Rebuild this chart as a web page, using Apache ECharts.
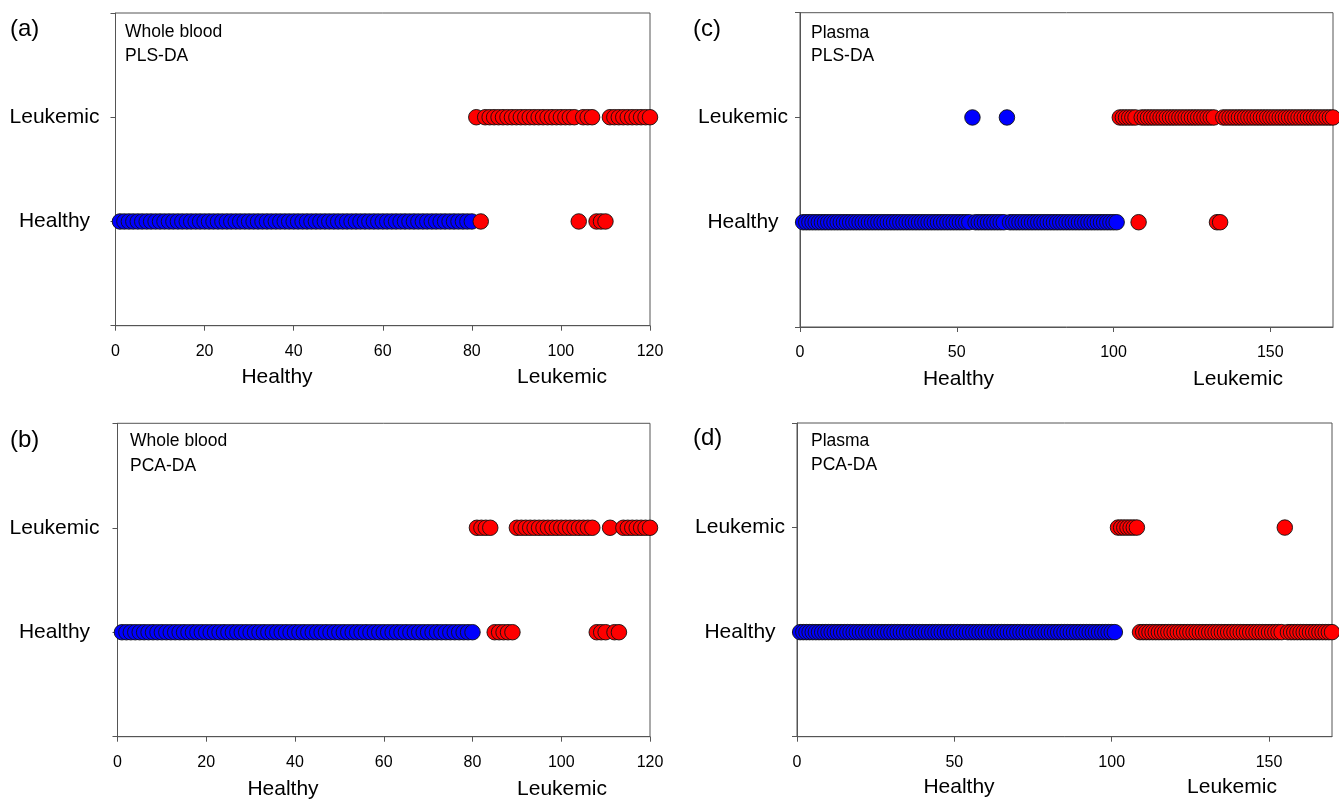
<!DOCTYPE html>
<html>
<head>
<meta charset="utf-8">
<script src="https://cdn.jsdelivr.net/npm/echarts@6/dist/echarts.min.js"></script>
<style>
html,body{margin:0;padding:0;background:#fff;}
#chart{width:1339px;height:800px;}
</style>
</head>
<body>
<div id="chart"></div>
<script>
// ---- Data: sample numbers, grouped by true class (colour) and predicted class (row) ----
const yCategories = ['Healthy', 'Leukemic'];   // y = 1, y = 2

// (a) Whole blood, PLS-DA
const aHealthyPredHealthy = [1,2,3,4,5,6,7,8,9,10,11,12,13,14,15,16,17,18,19,20,21,22,23,24,25,26,27,28,29,30,31,32,33,34,35,36,37,38,39,40,41,42,43,44,45,46,47,48,49,50,51,52,53,54,55,56,57,58,59,60,61,62,63,64,65,66,67,68,69,70,71,72,73,74,75,76,77,78,79,80];
const aHealthyPredLeukemic = [];
const aLeukemicPredHealthy = [82,104,108,109,110];
const aLeukemicPredLeukemic = [81,83,84,85,86,87,88,89,90,91,92,93,94,95,96,97,98,99,100,101,102,103,105,106,107,111,112,113,114,115,116,117,118,119,120];

// (b) Whole blood, PCA-DA
const bHealthyPredHealthy = [1,2,3,4,5,6,7,8,9,10,11,12,13,14,15,16,17,18,19,20,21,22,23,24,25,26,27,28,29,30,31,32,33,34,35,36,37,38,39,40,41,42,43,44,45,46,47,48,49,50,51,52,53,54,55,56,57,58,59,60,61,62,63,64,65,66,67,68,69,70,71,72,73,74,75,76,77,78,79,80];
const bHealthyPredLeukemic = [];
const bLeukemicPredHealthy = [85,86,87,88,89,108,109,110,112,113];
const bLeukemicPredLeukemic = [81,82,83,84,90,91,92,93,94,95,96,97,98,99,100,101,102,103,104,105,106,107,111,114,115,116,117,118,119,120];

// (c) Plasma, PLS-DA
const cHealthyPredHealthy = [1,2,3,4,5,6,7,8,9,10,11,12,13,14,15,16,17,18,19,20,21,22,23,24,25,26,27,28,29,30,31,32,33,34,35,36,37,38,39,40,41,42,43,44,45,46,47,48,49,50,51,52,53,54,56,57,58,59,60,61,62,63,64,65,67,68,69,70,71,72,73,74,75,76,77,78,79,80,81,82,83,84,85,86,87,88,89,90,91,92,93,94,95,96,97,98,99,100,101];
const cHealthyPredLeukemic = [55,66];
const cLeukemicPredHealthy = [108,133,134];
const cLeukemicPredLeukemic = [102,103,104,105,106,107,109,110,111,112,113,114,115,116,117,118,119,120,121,122,123,124,125,126,127,128,129,130,131,132,135,136,137,138,139,140,141,142,143,144,145,146,147,148,149,150,151,152,153,154,155,156,157,158,159,160,161,162,163,164,165,166,167,168,169,170];

// (d) Plasma, PCA-DA
const dHealthyPredHealthy = [1,2,3,4,5,6,7,8,9,10,11,12,13,14,15,16,17,18,19,20,21,22,23,24,25,26,27,28,29,30,31,32,33,34,35,36,37,38,39,40,41,42,43,44,45,46,47,48,49,50,51,52,53,54,55,56,57,58,59,60,61,62,63,64,65,66,67,68,69,70,71,72,73,74,75,76,77,78,79,80,81,82,83,84,85,86,87,88,89,90,91,92,93,94,95,96,97,98,99,100,101];
const dHealthyPredLeukemic = [];
const dLeukemicPredHealthy = [109,110,111,112,113,114,115,116,117,118,119,120,121,122,123,124,125,126,127,128,129,130,131,132,133,134,135,136,137,138,139,140,141,142,143,144,145,146,147,148,149,150,151,152,153,154,156,157,158,159,160,161,162,163,164,165,166,167,168,169,170];
const dLeukemicPredLeukemic = [102,103,104,105,106,107,108,155];

// Axis ticks
const wbXTicks = [0,20,40,60,80,100,120];
const plXTicks = [0,50,100,150];
const wbXMax = 120;
const plXMax = 170;

// ---- Layout / style ----
const FONT = "'Liberation Sans', Arial, Helvetica, sans-serif";
const AXIS_COLOR = '#555';
const BLUE = '#0000ff';
const RED = '#ff0000';

const panels = [
  { grid:{left:115.5, top:13,   width:534.5, height:312.7}, xMax:wbXMax, xTicks:wbXTicks, yMargin:61,
    hh:aHealthyPredHealthy, hl:aHealthyPredLeukemic, lh:aLeukemicPredHealthy, ll:aLeukemicPredLeukemic },
  { grid:{left:117.5, top:423.3, width:532.5, height:313.4}, xMax:wbXMax, xTicks:wbXTicks, yMargin:63,
    hh:bHealthyPredHealthy, hl:bHealthyPredLeukemic, lh:bLeukemicPredHealthy, ll:bLeukemicPredLeukemic },
  { grid:{left:800,   top:12.7, width:533,   height:314.3}, xMax:plXMax, xTicks:plXTicks, yMargin:57,
    hh:cHealthyPredHealthy, hl:cHealthyPredLeukemic, lh:cLeukemicPredHealthy, ll:cLeukemicPredLeukemic },
  { grid:{left:797,   top:423,  width:535,   height:313.7}, xMax:plXMax, xTicks:plXTicks, yMargin:57,
    hh:dHealthyPredHealthy, hl:dHealthyPredLeukemic, lh:dLeukemicPredHealthy, ll:dLeukemicPredLeukemic }
];

const grids = [], xAxes = [], yAxes = [], series = [];
panels.forEach((p, i) => {
  grids.push(Object.assign({show:true, borderColor:AXIS_COLOR, borderWidth:1, backgroundColor:'transparent', containLabel:false}, p.grid));
  xAxes.push({
    gridIndex:i, type:'value', min:0, max:p.xMax,
    axisLine:{show:true, onZero:false, lineStyle:{color:AXIS_COLOR, width:1}},
    axisTick:{show:true, length:5, customValues:p.xTicks, lineStyle:{color:AXIS_COLOR}},
    axisLabel:{customValues:p.xTicks, fontSize:16, color:'#000', margin:18, fontFamily:FONT},
    splitLine:{show:false}
  });
  yAxes.push({
    gridIndex:i, type:'value', min:0, max:3,
    axisLine:{show:true, onZero:false, lineStyle:{color:AXIS_COLOR, width:1}},
    axisTick:{show:true, length:5, customValues:[0,1,2,3], lineStyle:{color:AXIS_COLOR}},
    axisLabel:{customValues:[1,2], formatter:(v)=>yCategories[Math.round(v)-1] || '',
               align:'center', margin:p.yMargin, fontSize:21, color:'#000', fontFamily:FONT},
    splitLine:{show:false}
  });
  const mk = (ids, row, color) => ({
    type:'scatter', xAxisIndex:i, yAxisIndex:i, clip:false,
    symbol:'circle', symbolSize:15.5,
    itemStyle:{color:color, borderColor:'#111', borderWidth:0.9, opacity:1},
    emphasis:{disabled:true},
    data: ids.map(s => [s, row])
  });
  series.push(mk(p.hh, 1, BLUE));
  series.push(mk(p.hl, 2, BLUE));
  series.push(mk(p.lh, 1, RED));
  series.push(mk(p.ll, 2, RED));
});

function txt(text, x, y, size, align) {
  return {type:'text', x:x, y:y, silent:true,
    style:{text:text, fill:'#000', font: size + 'px ' + FONT, align:align || 'left', verticalAlign:'middle'}};
}

const graphics = [
  txt('(a)', 10, 29, 24), txt('(b)', 10, 440, 24), txt('(c)', 693, 29, 24), txt('(d)', 693, 438, 24),
  txt('Whole blood', 125, 32.5, 17.5), txt('PLS-DA', 125, 56.5, 17.5),
  txt('Whole blood', 130, 441.5, 17.5), txt('PCA-DA', 130, 466, 17.5),
  txt('Plasma', 811, 33, 17.5), txt('PLS-DA', 811, 56.5, 17.5),
  txt('Plasma', 811, 441, 17.5), txt('PCA-DA', 811, 465, 17.5),
  txt('Healthy', 277, 377, 21, 'center'), txt('Leukemic', 562, 377, 21, 'center'),
  txt('Healthy', 283, 789, 21, 'center'), txt('Leukemic', 562, 789, 21, 'center'),
  txt('Healthy', 958.5, 379, 21, 'center'), txt('Leukemic', 1238, 379, 21, 'center'),
  txt('Healthy', 959, 787, 21, 'center'), txt('Leukemic', 1232, 787, 21, 'center')
];

const chart = echarts.init(document.getElementById('chart'), null, {renderer:'canvas'});
chart.setOption({
  animation:false,
  backgroundColor:'#fff',
  textStyle:{fontFamily:FONT},
  grid:grids, xAxis:xAxes, yAxis:yAxes, series:series,
  graphic:graphics
});
</script>
</body>
</html>
